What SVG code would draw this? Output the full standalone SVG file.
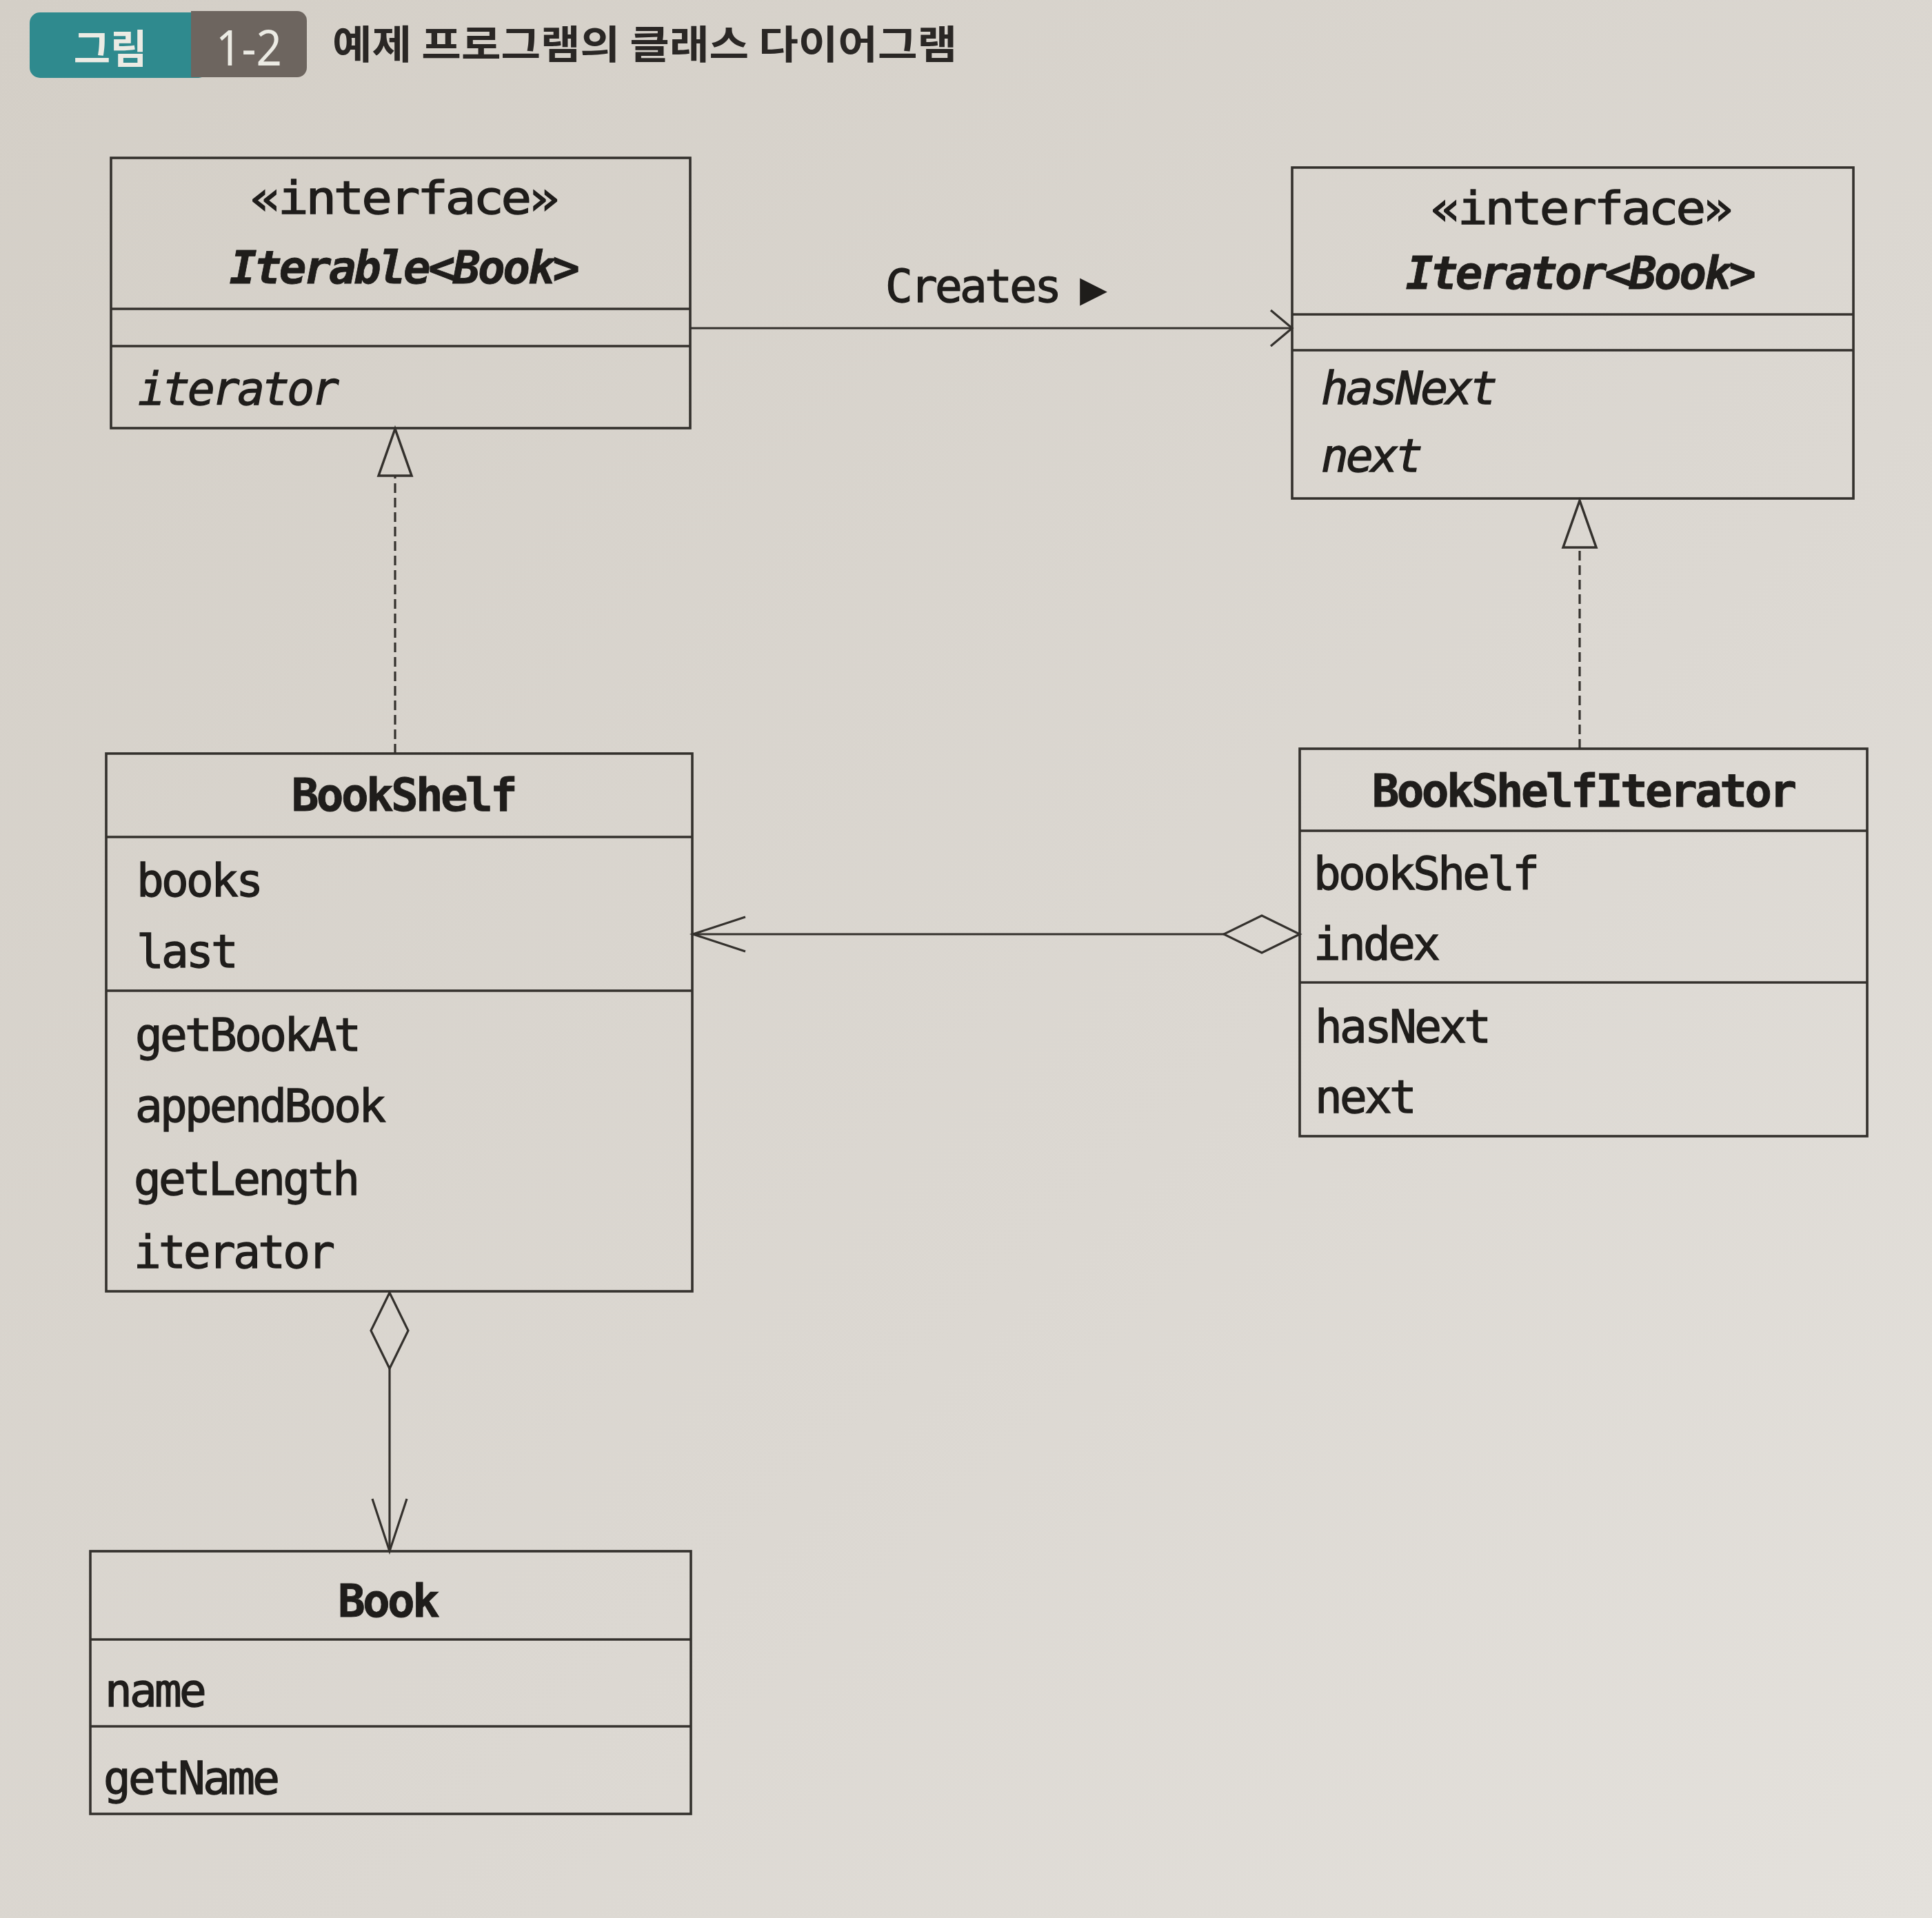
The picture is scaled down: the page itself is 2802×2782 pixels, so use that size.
<svg xmlns="http://www.w3.org/2000/svg" width="2802" height="2782" viewBox="0 0 2802 2782">
<style>
.box{fill:none;stroke:#34312d;stroke-width:3.6}
.div{stroke:#34312d;stroke-width:3.6}
.t{font-family:"DejaVu Sans Mono","Liberation Mono",monospace;font-size:66px;letter-spacing:-3.7px;fill:#1f1d1b;stroke:#1f1d1b;stroke-width:1.3px}
.b{font-weight:bold;stroke-width:0.8px}
.i{font-style:italic}
.m{text-anchor:middle}
.line{fill:none;stroke:#34312d;stroke-width:3.2}
.dash{stroke-dasharray:14 7}
</style>
<defs>
<linearGradient id="paper" x1="0" y1="0" x2="1" y2="1">
<stop offset="0" stop-color="#d4cfc7"/>
<stop offset="0.6" stop-color="#dcd8d2"/>
<stop offset="1" stop-color="#e4e1dc"/>
</linearGradient>
<marker id="tri" markerUnits="userSpaceOnUse" viewBox="-4 -30 78 60" markerWidth="78" markerHeight="60" refX="0" refY="0" orient="auto" style="overflow:visible">
<path d="M0,-24 L68,0 L0,24 Z" fill="none" stroke="#34312d" stroke-width="3.5" stroke-dasharray="none"/>
</marker>
<marker id="openLong" markerUnits="userSpaceOnUse" viewBox="-82 -30 86 60" markerWidth="86" markerHeight="60" refX="0" refY="0" orient="auto" style="overflow:visible">
<path d="M-76,-25 L0,0 L-76,25" fill="none" stroke="#34312d" stroke-width="3.2"/>
</marker>
<marker id="openShort" markerUnits="userSpaceOnUse" viewBox="-36 -30 40 60" markerWidth="40" markerHeight="60" refX="0" refY="0" orient="auto" style="overflow:visible">
<path d="M-31,-26 L0,0 L-31,26" fill="none" stroke="#34312d" stroke-width="3.2"/>
</marker>
<marker id="diamond" markerUnits="userSpaceOnUse" viewBox="-4 -32 118 64" markerWidth="118" markerHeight="64" refX="110" refY="0" orient="auto" style="overflow:visible">
<path d="M0,0 L55,-27 L110,0 L55,27 Z" fill="none" stroke="#34312d" stroke-width="3.2"/>
</marker>
</defs>
<rect x="0" y="0" width="2802" height="2782" fill="url(#paper)"/>

<g id="title">
<rect x="43" y="18" width="260" height="95" rx="15" fill="#2f8a8e"/>
<path d="M277,16 H431 A14,14 0 0 1 445,30 V98 A14,14 0 0 1 431,112 H277 Z" fill="#6d655f"/>
<text x="160" y="92" text-anchor="middle" font-family="'Noto Sans CJK KR',sans-serif" font-size="58" font-weight="bold" fill="#ecebe4">그림</text>
<text x="361" y="95" text-anchor="middle" font-family="'Noto Sans',sans-serif" font-size="72" fill="#ecebe4" textLength="96" lengthAdjust="spacingAndGlyphs">1-2</text>
<text x="482" y="85" font-family="'Noto Sans CJK KR',sans-serif" font-size="57" font-weight="bold" fill="#2a2725" textLength="906" lengthAdjust="spacingAndGlyphs">예제 프로그램의 클래스 다이어그램</text>
</g>

<g id="connectors">
<path class="line" d="M1001,476 H1874" marker-end="url(#openShort)"/>
<text class="t" x="1284" y="438">Creates</text>
<text x="1566" y="437" font-family="'DejaVu Sans',sans-serif" font-size="52" fill="#1f1d1b">▶</text>
<path class="line dash" d="M573,1093 V690" marker-end="url(#tri)"/>
<path class="line dash" d="M2291,1086 V794" marker-end="url(#tri)"/>
<path class="line" d="M1775,1355 H1005" marker-start="url(#diamond)" marker-end="url(#openLong)"/>
<path class="line" d="M565,1985 V2250" marker-start="url(#diamond)" marker-end="url(#openLong)"/>
</g>

<g id="iterable">
<rect class="box" x="161" y="229" width="840" height="392"/>
<line class="div" x1="161" y1="448" x2="1001" y2="448"/>
<line class="div" x1="161" y1="502" x2="1001" y2="502"/>
<text class="t m" x="585" y="310" textLength="445" lengthAdjust="spacingAndGlyphs">«interface»</text>
<text class="t m i b" x="585" y="411">Iterable&lt;Book&gt;</text>
<text class="t i" x="200" y="587">iterator</text>
</g>

<g id="iterator">
<rect class="box" x="1874" y="243" width="814" height="480"/>
<line class="div" x1="1874" y1="456" x2="2688" y2="456"/>
<line class="div" x1="1874" y1="508" x2="2688" y2="508"/>
<text class="t m" x="2292" y="325" textLength="435" lengthAdjust="spacingAndGlyphs">«interface»</text>
<text class="t m i b" x="2291" y="419">Iterator&lt;Book&gt;</text>
<text class="t i" x="1916" y="586">hasNext</text>
<text class="t i" x="1916" y="684">next</text>
</g>

<g id="bookshelf">
<rect class="box" x="154" y="1093" width="850" height="780"/>
<line class="div" x1="154" y1="1214" x2="1004" y2="1214"/>
<line class="div" x1="154" y1="1437" x2="1004" y2="1437"/>
<text class="t m b" x="585" y="1176">BookShelf</text>
<text class="t" x="198" y="1300">books</text>
<text class="t" x="198" y="1403">last</text>
<text class="t" x="196" y="1524">getBookAt</text>
<text class="t" x="196" y="1627">appendBook</text>
<text class="t" x="194" y="1733">getLength</text>
<text class="t" x="194" y="1839">iterator</text>
</g>

<g id="bookshelfiterator">
<rect class="box" x="1885" y="1086" width="823" height="562"/>
<line class="div" x1="1885" y1="1205" x2="2708" y2="1205"/>
<line class="div" x1="1885" y1="1425" x2="2708" y2="1425"/>
<text class="t m b" x="2296" y="1170">BookShelfIterator</text>
<text class="t" x="1905" y="1290">bookShelf</text>
<text class="t" x="1905" y="1392">index</text>
<text class="t" x="1907" y="1512">hasNext</text>
<text class="t" x="1907" y="1614">next</text>
</g>

<g id="book">
<rect class="box" x="131" y="2250" width="871" height="381"/>
<line class="div" x1="131" y1="2378" x2="1002" y2="2378"/>
<line class="div" x1="131" y1="2504" x2="1002" y2="2504"/>
<text class="t m b" x="562" y="2345">Book</text>
<text class="t" x="152" y="2475">name</text>
<text class="t" x="150" y="2602">getName</text>
</g>
</svg>
